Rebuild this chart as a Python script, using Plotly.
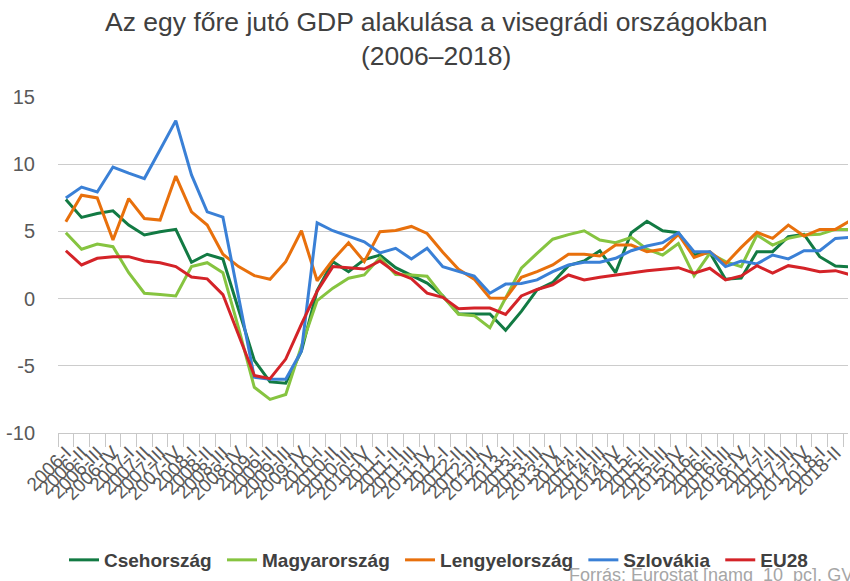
import plotly.graph_objects as go

years = list(range(2006, 2019))
quarters = ["I", "II", "III", "IV"]
categories = [f"{y}-{q}" for y in years for q in quarters][:51]

cseh = [7.37, 6.04, 6.33, 6.53, 5.47, 4.73, 4.97, 5.15, 2.7, 3.3, 2.95, -0.8, -4.6, -6.2, -6.3, -3.9,
        0.6, 2.75, 2.0, 2.9, 3.24, 2.3, 1.75, 1.15, 0.2, -1.13, -1.14, -1.14, -2.36, -0.95, 0.65, 1.2,
        2.45, 2.8, 3.56, 1.93, 4.9, 5.76, 5.05, 4.9, 3.24, 3.42, 1.44, 1.52, 3.49, 3.49, 4.6, 4.78,
        3.12, 2.43, 2.35]
magyar = [4.9, 3.67, 4.06, 3.86, 1.93, 0.4, 0.3, 0.2, 2.38, 2.67, 1.93, -2.2, -6.6, -7.5, -7.13, -3.55,
          -0.15, 0.78, 1.52, 1.76, 3.05, 1.8, 1.76, 1.66, 0.18, -1.16, -1.27, -2.17, 0.05, 2.26, 3.37, 4.42,
          4.76, 5.05, 4.36, 4.16, 4.56, 3.67, 3.24, 4.1, 1.69, 3.37, 2.75, 2.38, 4.73, 3.98, 4.48, 4.73,
          4.78, 5.15, 5.15]
lengyel = [5.71, 7.69, 7.49, 4.36, 7.44, 5.96, 5.84, 9.12, 6.45, 5.47, 3.3, 2.38, 1.71, 1.44, 2.75, 5.05,
           1.33, 2.87, 4.16, 2.75, 4.98, 5.07, 5.37, 4.85, 3.45, 2.18, 1.45, 0.04, 0.02, 1.59, 2.0, 2.5,
           3.3, 3.3, 3.17, 3.98, 3.98, 3.49, 3.67, 4.78, 3.07, 3.49, 2.58, 3.81, 4.93, 4.48, 5.47, 4.65,
           5.15, 5.15, 5.84]
szlovak = [7.49, 8.3, 7.93, 9.79, 9.34, 8.93, 11.07, 13.24, 9.2, 6.45, 6.06, 0.1, -5.85, -6.0, -6.0, -3.9,
           5.64, 5.05, 4.65, 4.23, 3.4, 3.74, 2.95, 3.74, 2.38, 2.0, 1.67, 0.4, 1.08, 1.12, 1.39, 2.0,
           2.5, 2.7, 2.7, 3.0, 3.56, 3.91, 4.16, 4.9, 3.49, 3.49, 2.38, 2.8, 2.58, 3.24, 2.95, 3.56,
           3.56, 4.48, 4.56]
eu28 = [3.56, 2.5, 3.0, 3.12, 3.12, 2.8, 2.67, 2.38, 1.6, 1.47, 0.3, -2.7, -5.72, -5.96, -4.5, -1.9,
        0.55, 2.38, 2.3, 2.2, 2.8, 1.95, 1.48, 0.4, 0.1, -0.76, -0.7, -0.7, -1.18, 0.2, 0.68, 1.02,
        1.76, 1.39, 1.59, 1.76, 1.89, 2.08, 2.18, 2.3, 1.89, 2.26, 1.39, 1.69, 2.45, 1.89, 2.45, 2.26,
        2.0, 2.08, 1.76]

series_names = ["Csehország", "Magyarország", "Lengyelország", "Szlovákia", "EU28"]
series_values = [cseh, magyar, lengyel, szlovak, eu28]
series_colors = ["#127a43", "#86c440", "#e8700c", "#3a80d6", "#d42328"]

y_tickvals = [-10, -5, 0, 5, 10, 15]
y_ticktext = ["-10", "-5", "0", "5", "10", "15"]

title_text = "Az egy főre jutó GDP alakulása a visegrádi országokban<br>(2006–2018)"
source_text = "Forrás: Eurostat [namq_10_pc], GVI"

# plot area geometry (pixels)
L, R, T, B, W, H = 58, 2, 97, 148, 850, 581
PW, PH = W - L - R, H - T - B


def px_x(x):
    return (x - L) / PW


def px_y(y):
    return (H - B - y) / PH


fig = go.Figure()
for name, vals, col in zip(series_names, series_values, series_colors):
    fig.add_trace(go.Scatter(x=categories, y=vals, mode="lines", name=name + "\u00a0",
                             line=dict(color=col, width=3)))

fig.update_layout(
    width=W, height=H,
    margin=dict(l=L, r=R, t=T, b=B, autoexpand=False),
    paper_bgcolor="white", plot_bgcolor="white",
    font=dict(family="Liberation Sans, Arial, sans-serif", color="#595959"),
    showlegend=True,
    legend=dict(orientation="h", x=px_x(64), xanchor="left", y=px_y(560), yanchor="middle",
                font=dict(size=19, color="#404040", family="Liberation Sans, Arial", weight="bold"),
                itemwidth=30, traceorder="normal"),
    annotations=[
        dict(text=title_text, xref="paper", yref="paper", x=px_x(435.5), xanchor="center",
             y=px_y(5), yanchor="top", showarrow=False,
             font=dict(size=26.5, color="#404040")),
        dict(text=source_text, xref="paper", yref="paper", x=px_x(567),
             xanchor="left", y=px_y(575), yanchor="middle", showarrow=False,
             font=dict(size=18, color="#a6a6a6")),
    ],
)

fig.update_xaxes(
    type="category", range=[-0.5, 49.8], automargin=False,
    tickmode="array", tickvals=categories, ticktext=categories,
    tickangle=-45, tickson="boundaries", ticks="outside", ticklen=13,
    tickcolor="#c8c8c8", showline=True, linecolor="#c8c8c8", linewidth=1.3,
    showgrid=False, tickfont=dict(size=19, color="#595959"),
)
fig.update_yaxes(
    range=[-10, 15], automargin=False, tickmode="array", tickvals=y_tickvals, ticktext=y_ticktext,
    showgrid=True, gridcolor="#cccccc", gridwidth=1.3, zeroline=False, showline=False,
    ticks="", ticklabelstandoff=22, tickfont=dict(size=20, color="#595959"),
)

fig.write_html("out.html", config={"displayModeBar": False},
               post_script="document.body.style.margin='0px';")
